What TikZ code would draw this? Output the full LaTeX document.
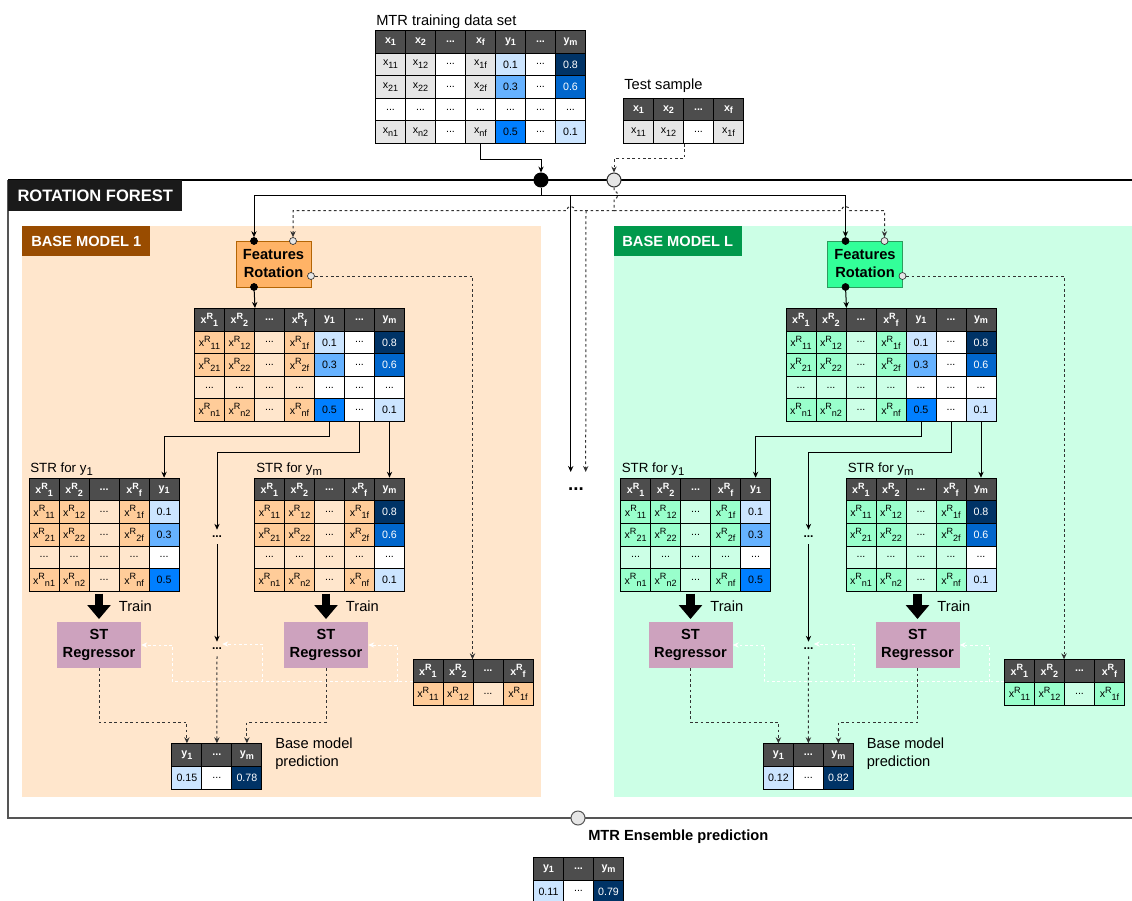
\documentclass[tikz,border=0pt]{standalone}
\usepackage{fontspec}
\usepackage{graphicx}
\setmainfont{Liberation Sans}
\usetikzlibrary{arrows.meta}
\definecolor{hdr}{HTML}{4D4D4D}
\definecolor{xg}{HTML}{E6E6E6}
\definecolor{bA}{HTML}{CCE5FF}
\definecolor{bB}{HTML}{66B2FF}
\definecolor{bC}{HTML}{007FFF}
\definecolor{bD}{HTML}{0066CC}
\definecolor{bE}{HTML}{003366}
\definecolor{Axa}{HTML}{FFCC99}
\definecolor{Axb}{HTML}{FFE6CC}
\definecolor{Afr}{HTML}{FFB366}
\definecolor{Afrd}{HTML}{B46504}
\definecolor{Alab}{HTML}{994C00}
\definecolor{Bxa}{HTML}{99FFCC}
\definecolor{Bxb}{HTML}{CCFFE6}
\definecolor{Bfr}{HTML}{33FF99}
\definecolor{Bfrd}{HTML}{2D9C5E}
\definecolor{Blab}{HTML}{00994C}
\definecolor{regc}{HTML}{CDA2BE}
\definecolor{ringg}{HTML}{E6E6E6}
\definecolor{dk}{HTML}{333333}
\definecolor{rfk}{HTML}{1A1A1A}
\definecolor{frm}{HTML}{555555}

\newcommand{\sbs}[1]{\raisebox{-0.45ex}{\scalebox{0.85}{#1}}}
\newcommand{\sps}[1]{\raisebox{0.8ex}{\scalebox{0.85}{#1}}}
\newcommand{\cxs}[1]{x\sbs{#1}}
\newcommand{\cys}[1]{y\sbs{#1}}
\newcommand{\cxr}[1]{x\sps{R}\sbs{#1}}
\newcommand{\dd}{...}

\tikzset{
 cell/.style={draw=black, line width=0.75pt, anchor=north west, minimum width=22.5pt, minimum height=16.95pt, inner sep=0pt, font=\fontsize{8}{9}\selectfont},
 hcell/.style={cell, fill=hdr, text=white, font=\fontsize{8}{9}\selectfont\bfseries},
 lbl/.style={font=\fontsize{11}{13.5}\selectfont, inner sep=0pt},
 blbl/.style={font=\fontsize{11}{13.5}\selectfont\bfseries, inner sep=0pt},
 frbox/.style={minimum width=56.25pt, minimum height=34.5pt, line width=0.75pt, align=center, font=\fontsize{11}{13.5}\selectfont\bfseries, inner sep=0pt},
 regbox/.style={fill=regc, minimum width=63pt, minimum height=34.5pt, align=center, font=\fontsize{11}{13.5}\selectfont\bfseries, inner sep=0pt},
 bmlabel/.style={anchor=north west, minimum width=96pt, minimum height=22.5pt, text=white, font=\fontsize{11}{13}\selectfont\bfseries, inner sep=0pt},
 bdot/.style={circle, fill=black, draw=black, minimum size=5.25pt, inner sep=0pt, line width=0.5pt},
 gdot/.style={circle, fill=ringg, draw=dk, minimum size=5.25pt, inner sep=0pt, line width=0.5pt},
 bigc/.style={circle, minimum size=10.5pt, inner sep=0pt, line width=0.75pt},
 arrtip/.style={-{Stealth[length=4.5pt,width=4pt]}},
 arr/.style={draw=black, line width=0.75pt, arrtip},
 darr/.style={draw=dk, line width=0.75pt, dash pattern=on 2pt off 2pt, arrtip},
 warr/.style={draw=white, line width=0.75pt, dash pattern=on 2pt off 2pt, arrtip},
 trainarr/.style={draw=black, line width=6.5pt, -{Triangle[length=10.5pt,width=17pt]}, shorten <=1.5pt, shorten >=2pt},
 smalldots/.style={font=\fontsize{9}{10}\selectfont\bfseries, minimum height=10.5pt, inner sep=0pt},
}

\newcommand{\hrow}[4]{\foreach \ct [count=\ci from 0] in {#4}{\node[hcell] (#1-\ci) at ({#2+30*\ci},#3) {\ct};}}
\newcommand{\drow}[4]{\foreach \cf/\cc/\ct [count=\ci from 0] in {#4}{\node[cell,fill=\cf,text=\cc] (#1-\ci) at ({#2+30*\ci},#3) {\ct};}}

\newcommand{\basemodel}[5]{%
\begin{scope}[shift={(#2,0)}]
\fill[#1xb] (22,226) rectangle (541,797);
\node[bmlabel,fill=#1lab] (#1L) at (22,226) {#3};
\node[frbox,fill=#1fr,draw=#1frd] (#1FR) at (273.5,264) {Features\\Rotation};
\node[bdot] (#1dT) at (254,241) {};
\node[gdot] (#1dG) at (293,241) {};
\node[bdot] (#1dB) at (254,287) {};
\node[gdot] (#1dR) at (311,276) {};
% rotated data set
\hrow{#1Rh}{194}{308}{\cxr{1},\cxr{2},\dd,\cxr{f},\cys{1},\dd,\cys{m}}
\drow{#1Ra}{194}{330.6}{#1xa/black/\cxr{11},#1xa/black/\cxr{12},#1xb/black/\dd,#1xa/black/\cxr{1f},bA/black/0.1,white/black/\dd,bE/white/0.8}
\drow{#1Rb}{194}{353.2}{#1xa/black/\cxr{21},#1xa/black/\cxr{22},#1xb/black/\dd,#1xa/black/\cxr{2f},bB/black/0.3,white/black/\dd,bD/white/0.6}
\drow{#1Rc}{194}{375.8}{#1xb/black/\dd,#1xb/black/\dd,#1xb/black/\dd,#1xb/black/\dd,white/black/\dd,white/black/\dd,white/black/\dd}
\drow{#1Rd}{194}{398.4}{#1xa/black/\cxr{n1},#1xa/black/\cxr{n2},#1xb/black/\dd,#1xa/black/\cxr{nf},bC/black/0.5,white/black/\dd,bA/black/0.1}
% STR for y1
\node[lbl,font=\fontsize{10}{12}\selectfont,anchor=base west] (#1SL) at (30,472) {STR for \cys{1}};
\hrow{#1Sh}{28.6}{477.7}{\cxr{1},\cxr{2},\dd,\cxr{f},\cys{1}}
\drow{#1Sa}{28.6}{500.3}{#1xa/black/\cxr{11},#1xa/black/\cxr{12},#1xb/black/\dd,#1xa/black/\cxr{1f},bA/black/0.1}
\drow{#1Sb}{28.6}{522.9}{#1xa/black/\cxr{21},#1xa/black/\cxr{22},#1xb/black/\dd,#1xa/black/\cxr{2f},bB/black/0.3}
\drow{#1Sc}{28.6}{545.5}{#1xb/black/\dd,#1xb/black/\dd,#1xb/black/\dd,#1xb/black/\dd,white/black/\dd}
\drow{#1Sd}{28.6}{568.1}{#1xa/black/\cxr{n1},#1xa/black/\cxr{n2},#1xb/black/\dd,#1xa/black/\cxr{nf},bC/black/0.5}
% STR for ym
\node[lbl,font=\fontsize{10}{12}\selectfont,anchor=base west] (#1TL) at (256,472) {STR for \cys{m}};
\hrow{#1Th}{254}{477.7}{\cxr{1},\cxr{2},\dd,\cxr{f},\cys{m}}
\drow{#1Ta}{254}{500.3}{#1xa/black/\cxr{11},#1xa/black/\cxr{12},#1xb/black/\dd,#1xa/black/\cxr{1f},bE/white/0.8}
\drow{#1Tb}{254}{522.9}{#1xa/black/\cxr{21},#1xa/black/\cxr{22},#1xb/black/\dd,#1xa/black/\cxr{2f},bD/white/0.6}
\drow{#1Tc}{254}{545.5}{#1xb/black/\dd,#1xb/black/\dd,#1xb/black/\dd,#1xb/black/\dd,white/black/\dd}
\drow{#1Td}{254}{568.1}{#1xa/black/\cxr{n1},#1xa/black/\cxr{n2},#1xb/black/\dd,#1xa/black/\cxr{nf},bA/black/0.1}
\node[smalldots] (#1mA) at (217,537) {\dd};
\node[smalldots] (#1mB) at (217,649) {\dd};
% regressors
\node[regbox] (#1G1) at (99,645) {ST\\Regressor};
\node[regbox] (#1G2) at (326,645) {ST\\Regressor};
\node[lbl,anchor=base west] (#1t1) at (118.6,611) {Train};
\node[lbl,anchor=base west] (#1t2) at (345.7,611) {Train};
% rotated test sample
\hrow{#1Xh}{412.5}{659.3}{\cxr{1},\cxr{2},\dd,\cxr{f}}
\drow{#1Xa}{412.5}{681.9}{#1xa/black/\cxr{11},#1xa/black/\cxr{12},#1xb/black/\dd,#1xa/black/\cxr{1f}}
% prediction
\hrow{#1Ph}{171.4}{743.3}{\cys{1},\dd,\cys{m}}
\drow{#1Pa}{171.4}{765.9}{bA/black/#4,white/black/\dd,bE/white/#5}
\node[lbl,anchor=north west,align=left] (#1PL) at (275,737.3) {Base model\\prediction};
\coordinate (#1w1) at (172.5,681.9);
\coordinate (#1w2) at (262.5,681.9);
\coordinate (#1w3) at (397.5,681.9);
% connectors
\draw[arr] (#1dB) -- (#1Rh-1.north east);
\draw[arr] (#1Rd-4.south) -- ++(0,14) -| (#1Sh-4.north);
\draw[arr] (#1Rd-5.south) -- ++(0,30) -| (#1mA.north);
\draw[arr] (#1Rd-6.south) -- (#1Th-4.north);
\draw[arr] (#1mA.south) -- (#1mB.north);
\draw[trainarr] (#1G1.north |- #1Sd-0.south) -- (#1G1.north);
\draw[trainarr] (#1G2.north |- #1Td-0.south) -- (#1G2.north);
\draw[darr] (#1dR) -| (#1Xh-2.north west);
\draw[warr] (#1Xa-0.north west) -- (#1w1) |- (#1G1.east);
\draw[warr] (#1w2) |- ([yshift=3.75pt]#1mB.east);
\draw[warr] (#1w3) |- (#1G2.east);
\draw[darr] (#1G1.south) -- ++(0,54) -| (#1Ph-0.north);
\draw[darr] (#1G2.south) -- ++(0,54) -| (#1Ph-2.north);
\draw[darr] (#1mB.south) -- (#1Ph-1.north);
\end{scope}}

\begin{document}
\begin{tikzpicture}[x=0.75pt,y=-0.75pt]
\fill[white] (0,0) rectangle (1132,900);
\useasboundingbox (0,0) rectangle (1132,900);

\basemodel{A}{0}{BASE MODEL 1}{0.15}{0.78}
\basemodel{B}{591.5}{BASE MODEL L}{0.12}{0.82}

% outer frame
\draw[draw=frm, line width=1.1pt] (1140,818) -- (8,818) -- (8,180);
\draw[draw=black, line width=0.9pt] (8,180) -- (1140,180);
\node[anchor=north west, fill=rfk, minimum width=130.5pt, minimum height=23.25pt, inner sep=0pt, text=white, font=\fontsize{12.4}{14}\selectfont\bfseries] (RF) at (8,180) {ROTATION FOREST};

% training data set
\node[lbl,anchor=base west] (Ttl) at (376,25) {MTR training data set};
\hrow{Th}{375}{30}{\cxs{1},\cxs{2},\dd,\cxs{f},\cys{1},\dd,\cys{m}}
\drow{Ta}{375}{52.6}{xg/black/\cxs{11},xg/black/\cxs{12},white/black/\dd,xg/black/\cxs{1f},bA/black/0.1,white/black/\dd,bE/white/0.8}
\drow{Tb}{375}{75.2}{xg/black/\cxs{21},xg/black/\cxs{22},white/black/\dd,xg/black/\cxs{2f},bB/black/0.3,white/black/\dd,bD/white/0.6}
\drow{Tc}{375}{97.8}{white/black/\dd,white/black/\dd,white/black/\dd,white/black/\dd,white/black/\dd,white/black/\dd,white/black/\dd}
\drow{Td}{375}{120.4}{xg/black/\cxs{n1},xg/black/\cxs{n2},white/black/\dd,xg/black/\cxs{nf},bC/black/0.5,white/black/\dd,bA/black/0.1}

% test sample
\node[lbl,anchor=base west] (Stl) at (624,89) {Test sample};
\hrow{Sh}{623}{97.7}{\cxs{1},\cxs{2},\dd,\cxs{f}}
\drow{Sa}{623}{120.3}{xg/black/\cxs{11},xg/black/\cxs{12},white/black/\dd,xg/black/\cxs{1f}}

% junctions
\node[bigc,fill=black,draw=black] (bc) at (541,180) {};
\node[bigc,fill=ringg,draw=dk] (gc) at (614,180) {};
\node[bigc,fill=ringg,draw=frm] (ec) at (578,818) {};
\node[font=\fontsize{14}{16}\selectfont\bfseries, inner sep=0pt] (mid) at (576,489) {\dd};

% ensemble prediction
\node[blbl,anchor=base west] (Etl) at (588,840) {MTR Ensemble prediction};
\hrow{Eh}{533}{857}{\cys{1},\dd,\cys{m}}
\drow{Ea}{533}{879.6}{bA/black/0.11,white/black/\dd,bE/white/0.79}

\coordinate (hub) at (541,195);
\coordinate (hub2) at (614,210.7);
\coordinate (j2) at (586,210.7);
\coordinate (m1) at (570.7,472);
\coordinate (m2) at (585.7,472);

% main connectors
\draw[arr] (Td-3.south) -- ++(0,15) -| (bc.north);
\draw[darr] (Sa-1.south east) -- ++(0,15) -| (gc.north);
\draw[arr] (bc.south) -- (hub) -| (AdT.north);
\draw[arr] (hub) -| (BdT.north);
\draw[arr] (hub) -| (m1);
\draw[darr] (gc.south) -- (614,191) .. controls (619,191) and (619,199) .. (614,199) -- (hub2) -- (574.7,210.7) .. controls (574.7,205) and (566.7,205) .. (566.7,210.7) -| (AdG.north);
\draw[darr] (hub2) -- (841.5,210.7) .. controls (841.5,205) and (849.5,205) .. (849.5,210.7) -| (BdG.north);
\draw[darr] (j2) -- (m2);
\end{tikzpicture}
\end{document}
